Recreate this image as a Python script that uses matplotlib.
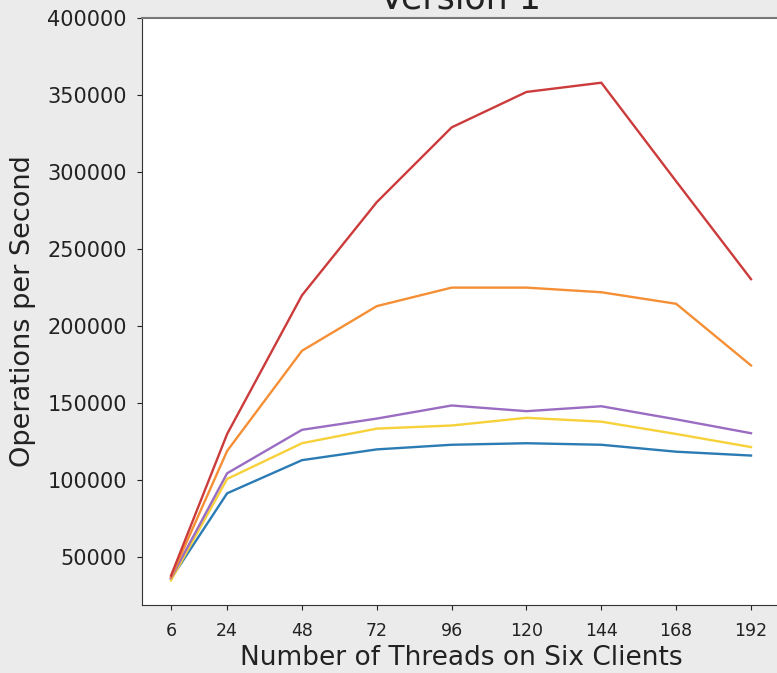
import matplotlib
matplotlib.use("Agg")
import matplotlib.pyplot as plt

threads = [6, 24, 48, 72, 96, 120, 144, 168, 192]
x_ticks = [6, 24, 48, 72, 96, 120, 144, 168, 192]

blue = [36000, 91500, 113000, 120000, 123000, 124000, 123000, 118500, 116000]
yellow = [35000, 100800, 124000, 133500, 135500, 140500, 138000, 130000, 121500]
purple = [36500, 104500, 132700, 140000, 148500, 144800, 148000, 139500, 130500]
orange = [37000, 119000, 184000, 213000, 225000, 225000, 222000, 214500, 174500]
red = [38000, 130000, 220000, 280500, 329000, 352000, 358000, 294000, 230500]

series = [
    (blue, "#2b7bb4"),
    (yellow, "#f7d13a"),
    (purple, "#9a6cc2"),
    (orange, "#f58f35"),
    (red, "#cc3b3b"),
]

fig = plt.figure(figsize=(7.77, 6.73), dpi=100)
fig.patch.set_facecolor("#ebebeb")
W, H = 777, 673
left_px, right_px, top_px, bottom_px = 142, 780, 18, 605
ax = fig.add_axes([left_px / W, 1 - bottom_px / H,
                   (right_px - left_px) / W, (bottom_px - top_px) / H])
ax.set_facecolor("white")

for vals, col in series:
    ax.plot(threads, vals, color=col, linewidth=1.7)

ax.set_xticks(x_ticks)
ax.set_xticklabels([str(t) for t in x_ticks])
ax.set_ylim(bottom=19000, top=400000)
ax.set_yticks([50000, 100000, 150000, 200000, 250000, 300000, 350000, 400000])
ax.tick_params(axis="x", labelsize=12.5, colors="#222222", pad=8.5)
ax.tick_params(axis="y", labelsize=15, colors="#222222", pad=7.5)
ax.set_xlabel("Number of Threads on Six Clients", fontsize=19, color="#222222", labelpad=4)
ax.set_ylabel("Operations per Second", fontsize=19.5, color="#222222", labelpad=8)
ax.set_title("Version 1", fontsize=25, color="#222222", pad=7)
for s in ax.spines.values():
    s.set_color("#333333")
ax.spines["top"].set_color("#777777")
ax.spines["top"].set_linewidth(1.5)

fig.savefig("out.png", dpi=100, facecolor=fig.get_facecolor())
